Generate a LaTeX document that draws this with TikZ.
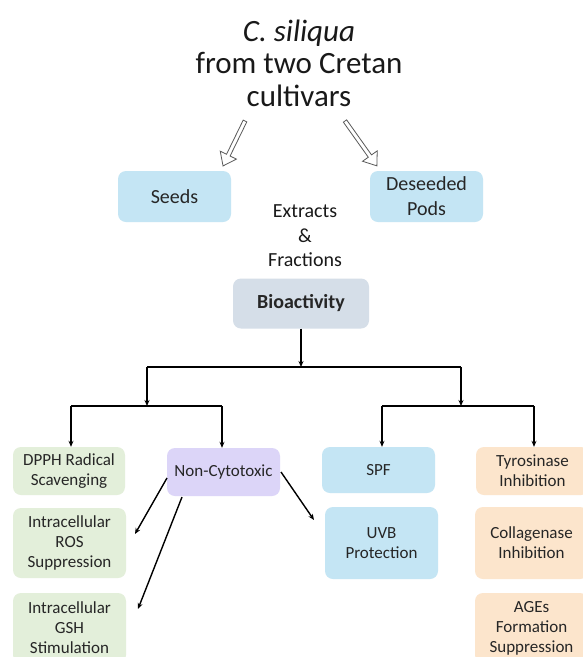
\documentclass[tikz,border=0pt]{standalone}
\usepackage{fontspec}
\setmainfont{Carlito}
\usetikzlibrary{arrows.meta}
\definecolor{bluebox}{HTML}{C4E5F4}
\definecolor{greenbox}{HTML}{E3EFDA}
\definecolor{purplebox}{HTML}{DCD5F8}
\definecolor{orangebox}{HTML}{FCE5CC}
\definecolor{graybox}{HTML}{D5DEE8}
\begin{document}
\begin{tikzpicture}[x=1pt,y=-1pt,
  box/.style={rounded corners=8pt, align=center, inner sep=0pt,
    font=\fontsize{17}{20}\selectfont, text=black!85},
  bigbox/.style={box, font=\fontsize{20}{25}\selectfont},
  conn/.style={line width=1.4pt, -{Stealth[length=6pt,width=5pt]}},
  plain/.style={line width=1.4pt},
  blockarrow/.style={draw=black!65, line width=0.8pt, fill=white, line join=miter}]
\useasboundingbox (0,0) rectangle (583,657);
\clip (0,0) rectangle (583,657);
\fill[white] (0,0) rectangle (583,657);

% title
\node[align=center, font=\fontsize{31}{32.5}\selectfont, text=black!90] (title) at (299,63)
  {\textit{C. siliqua}\\from two Cretan\\cultivars};

% hollow block arrows
\begin{scope}[shift={(245,121)}, rotate=-116.05]
  \draw[blockarrow] (0,2) -- (38,2) -- (38,9) -- (50,0) -- (38,-9) -- (38,-2) -- (0,-2) -- cycle;
\end{scope}
\begin{scope}[shift={(345,121)}, rotate=-54.6]
  \draw[blockarrow] (0,2) -- (43,2) -- (43,9) -- (55,0) -- (43,-9) -- (43,-2) -- (0,-2) -- cycle;
\end{scope}

% seeds / pods
\node[bigbox, fill=bluebox, minimum width=113pt, minimum height=51pt] (seeds) at (174.5,196.5) {Seeds};
\node[bigbox, fill=bluebox, minimum width=113pt, minimum height=51pt] (pods) at (426.5,196.5) {Deseeded\\Pods};

\node[align=center, font=\fontsize{20}{24.5}\selectfont, text=black!90] (extr) at (305,236) {Extracts\\\&\\Fractions};

% bioactivity
\node[bigbox, fill=graybox, minimum width=136pt, minimum height=50pt, font=\fontsize{20}{24}\selectfont\bfseries] (bio) at (301,303.5) {Bioactivity};

\coordinate (h1) at (301,367);
\coordinate (h1l) at (147,367);
\coordinate (h1r) at (461,367);
\coordinate (h2l) at (147,406);
\coordinate (h2r) at (461,406);
\coordinate (h2ll) at (71,406);
\coordinate (h2lr) at (222,406);
\coordinate (h2rl) at (382,406);
\coordinate (h2rr) at (534,406);

% level-2 boxes
\node[box, fill=greenbox, minimum width=112pt, minimum height=48pt] (dpph) at (69,471) {DPPH Radical\\Scavenging};
\node[box, fill=purplebox, minimum width=113pt, minimum height=48pt] (noncyt) at (223.5,472) {Non-Cytotoxic};
\node[box, fill=bluebox, minimum width=113pt, minimum height=46pt] (spf) at (378.5,470) {SPF};
\node[box, fill=orangebox, minimum width=113pt, minimum height=48pt] (tyro) at (532.5,471) {Tyrosinase\\Inhibition};

% level-3 boxes
\node[box, fill=greenbox, minimum width=113pt, minimum height=70pt] (ros) at (69.5,543) {Intracellular\\ROS\\Suppression};
\node[box, fill=greenbox, minimum width=113pt, minimum height=70pt] (gsh) at (69.5,628) {Intracellular\\GSH\\Stimulation};
\node[box, fill=bluebox, minimum width=113pt, minimum height=72pt] (uvb) at (381.5,543) {UVB\\Protection};
\node[box, fill=orangebox, minimum width=113pt, minimum height=72pt] (coll) at (531.5,543) {Collagenase\\Inhibition};
\node[box, fill=orangebox, minimum width=113pt, minimum height=70pt] (ages) at (531.5,628) {AGEs\\Formation\\Suppression};

% tree connectors
\draw[conn] (bio.south) -- (h1);
\draw[plain] (h1l) -- (h1r);
\draw[conn] (h1l) -- (h2l);
\draw[conn] (h1r) -- (h2r);
\draw[plain] (h2ll) -- (h2lr);
\draw[plain] (h2rl) -- (h2rr);
\draw[conn] (h2ll) -- (dpph.north -| h2ll);
\draw[conn] (h2lr) -- (noncyt.north -| h2lr);
\draw[conn] (h2rl) -- (spf.north -| h2rl);
\draw[conn] (h2rr) -- (tyro.north -| h2rr);

% non-cytotoxic connectors
\coordinate (nc1) at (167,478);
\coordinate (nc2) at (182,497);
\coordinate (nc3) at (281,472);
\coordinate (e1) at (135,534);
\coordinate (e2) at (138,609);
\coordinate (e3) at (314,520);
\draw[conn] (nc1) -- (e1);
\draw[conn] (nc2) -- (e2);
\draw[conn] (nc3) -- (e3);
\end{tikzpicture}
\end{document}
